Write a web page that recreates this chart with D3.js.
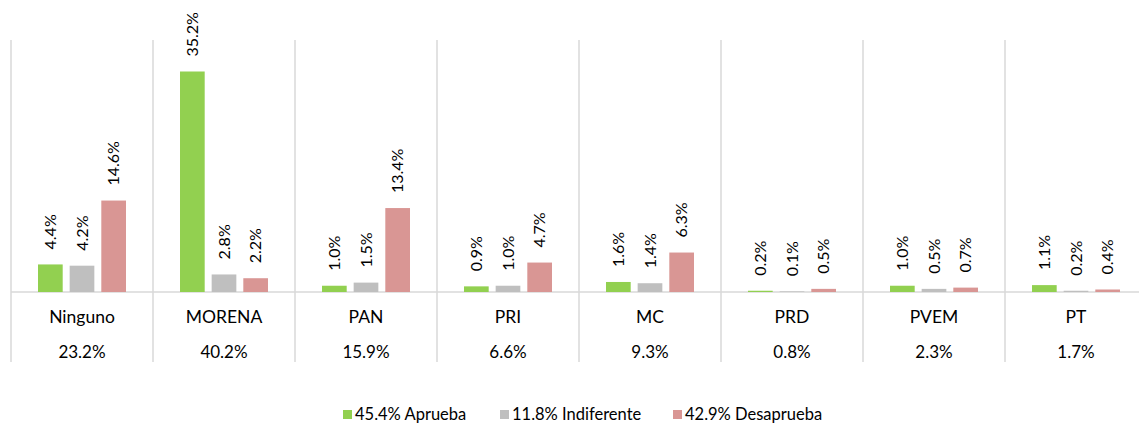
<!DOCTYPE html>
<html lang="es">
  <head>
    <meta charset="UTF-8" />
    <script src="https://cdn.jsdelivr.net/npm/d3@7"></script>
    <style>
      body { margin: 0; background: #fff; }
      text { font-family: Lato, "Open Sans", sans-serif; fill: #000; }
    </style>
  </head>
  <body>
    <div id="fig"></div>
    <script>
      const width = 1139, height = 424;

      const partidos = ["Ninguno", "MORENA", "PAN", "PRI", "MC", "PRD", "PVEM", "PT"];
      const totales = ["23.2%", "40.2%", "15.9%", "6.6%", "9.3%", "0.8%", "2.3%", "1.7%"];
      const series = ["Aprueba", "Indiferente", "Desaprueba"];
      const seriesTotal = ["45.4%", "11.8%", "42.9%"];
      const aprueba = [4.4, 35.2, 1.0, 0.9, 1.6, 0.2, 1.0, 1.1];
      const indiferente = [4.2, 2.8, 1.5, 1.0, 1.4, 0.1, 0.5, 0.2];
      const desaprueba = [14.6, 2.2, 13.4, 4.7, 6.3, 0.5, 0.7, 0.4];
      const colores = ["#92d050", "#bfbfbf", "#d99694"];

      const values = [aprueba, indiferente, desaprueba];

      const svg = d3.select("#fig").append("svg")
        .attr("width", width).attr("height", height);

      const left = 11, step = 142;
      const baseY = 292;
      const x0 = d3.scaleBand().domain(partidos)
        .range([left, left + step * partidos.length]).paddingInner(0).paddingOuter(0);
      const x1 = d3.scaleBand().domain(series)
        .range([27, 115]).paddingInner(0.22).paddingOuter(0);
      const y = d3.scaleLinear().domain([0, 35.2]).range([baseY, 71.5]);

      // grid: separators and baseline
      const grid = svg.append("g").attr("stroke", "#d9d9d9").attr("stroke-width", 1.5);
      partidos.forEach(p => {
        grid.append("line")
          .attr("x1", x0(p)).attr("x2", x0(p))
          .attr("y1", 40).attr("y2", 362);
      });
      grid.append("line")
        .attr("x1", x0(partidos[partidos.length - 1]) + step).attr("x2", x0(partidos[partidos.length - 1]) + step)
        .attr("y1", 40).attr("y2", 362);
      grid.append("line")
        .attr("x1", left).attr("x2", width).attr("y1", baseY).attr("y2", baseY);

      const groups = svg.selectAll("g.cat").data(partidos).join("g")
        .attr("class", "cat")
        .attr("transform", d => `translate(${x0(d)},0)`);

      series.forEach((s, si) => {
        groups.append("rect")
          .attr("x", x1(s))
          .attr("width", x1.bandwidth())
          .attr("y", (d, i) => y(values[si][i]))
          .attr("height", (d, i) => baseY - y(values[si][i]))
          .attr("fill", colores[si]);

        groups.append("text")
          .attr("transform", (d, i) =>
            `translate(${x1(s) + x1.bandwidth() / 2 + 5.5},${y(values[si][i]) - 15}) rotate(-90)`)
          .attr("text-anchor", "start")
          .style("font-size", "16px")
          .text((d, i) => values[si][i].toFixed(1) + "%");
      });

      groups.append("text")
        .attr("x", step / 2).attr("y", 323)
        .attr("text-anchor", "middle")
        .style("font-size", "17.5px")
        .text(d => d);

      groups.append("text")
        .attr("x", step / 2).attr("y", 358)
        .attr("text-anchor", "middle")
        .style("font-size", "17px")
        .text((d, i) => totales[i]);

      // legend
      const legendX = [343, 500, 673];
      const legend = svg.append("g");
      series.forEach((s, i) => {
        legend.append("rect")
          .attr("x", legendX[i]).attr("y", 410)
          .attr("width", 9).attr("height", 9)
          .attr("fill", colores[i]);
        legend.append("text")
          .attr("x", legendX[i] + 12).attr("y", 419.5)
          .style("font-size", "16.5px")
          .text(`${seriesTotal[i]} ${s}`);
      });
    </script>
  </body>
</html>
